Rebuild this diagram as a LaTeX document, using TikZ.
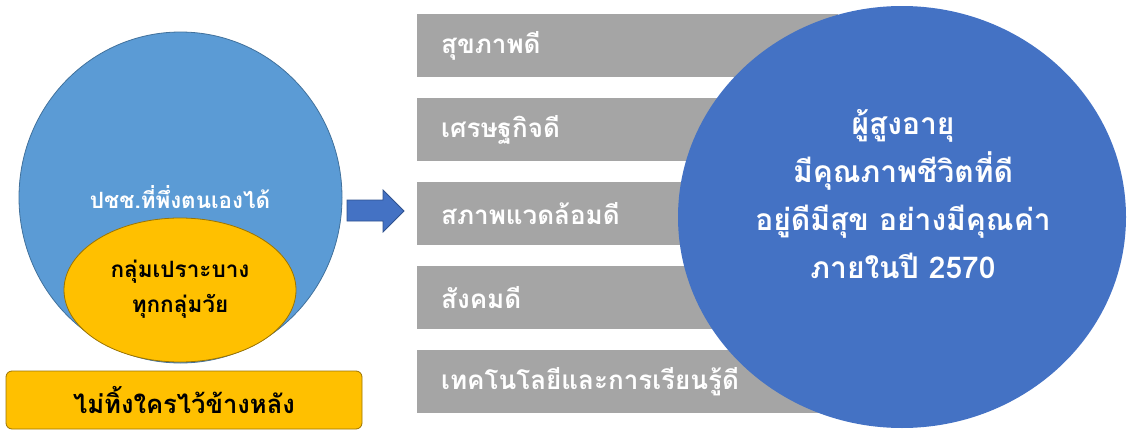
\documentclass[tikz,border=0pt]{standalone}
\usepackage{fontspec}
\newfontfamily\thaifont[Script=Thai]{Loma}
\usetikzlibrary{shapes.geometric}
\definecolor{popblue}{HTML}{5B9BD5}
\definecolor{popline}{HTML}{41719C}
\definecolor{vulyellow}{HTML}{FFC000}
\definecolor{vulline}{HTML}{9C7400}
\definecolor{goalblue}{HTML}{4472C4}
\definecolor{arrline}{HTML}{2F528F}
\definecolor{bargray}{HTML}{A5A5A5}
\tikzset{
bar/.style={fill=bargray, anchor=west, minimum height=63, inner xsep=24, text width=373, align=left, text=white, font=\thaifont\bfseries\fontsize{26}{30}\selectfont},
goaltext/.style={text=white, align=center, font=\thaifont\bfseries\fontsize{30}{48}\selectfont}
}
\begin{document}
\begin{tikzpicture}[x=1pt,y=-1pt]
\useasboundingbox (0,0) rectangle (1127,431);

\node[ellipse, fill=popblue, draw=popline, line width=0.8, minimum width=323, minimum height=331] (pop) at (180.5,197.5) {};
\node[ellipse, fill=vulyellow, draw=vulline, line width=0.8, minimum width=232, minimum height=144] (vul) at (180,290) {};
\node[text=white, font=\thaifont\bfseries\fontsize{22.4}{26}\selectfont] (poptext) at (180,197) {ปชช.ที่พึ่งตนเองได้};
\node[align=center, font=\thaifont\bfseries\fontsize{22.5}{35}\selectfont] (vultext) at (180,289) {กลุ่มเปราะบาง\\ทุกกลุ่มวัย};
\node[fill=vulyellow, draw=vulline, line width=0.8, rounded corners=6, minimum width=356, minimum height=58, font=\thaifont\bfseries\fontsize{25.6}{30}\selectfont] (nobody) at (184,400) {ไม่ทิ้งใครไว้ข้างหลัง};

\draw[fill=goalblue, draw=arrline, line width=0.8] (347,200) -- (383,200) -- (383,190) -- (404,211) -- (383,232) -- (383,221) -- (347,221) -- cycle;

\foreach \y/\txt [count=\i] in {45.5/สุขภาพดี,129.5/เศรษฐกิจดี,213.5/สภาพแวดล้อมดี,297.5/สังคมดี,381.5/เทคโนโลยีและการเรียนรู้ดี}
\node[bar] (bar\i) at (417,\y) {\txt};

\node[ellipse, fill=goalblue, minimum width=448, minimum height=422] (goal) at (902,217) {};
\node[goaltext] (goaltxt) at (903,194) {ผู้สูงอายุ\\มีคุณภาพชีวิตที่ดี\\อยู่ดีมีสุข อย่างมีคุณค่า\\ภายในปี 2570};

\end{tikzpicture}
\end{document}
